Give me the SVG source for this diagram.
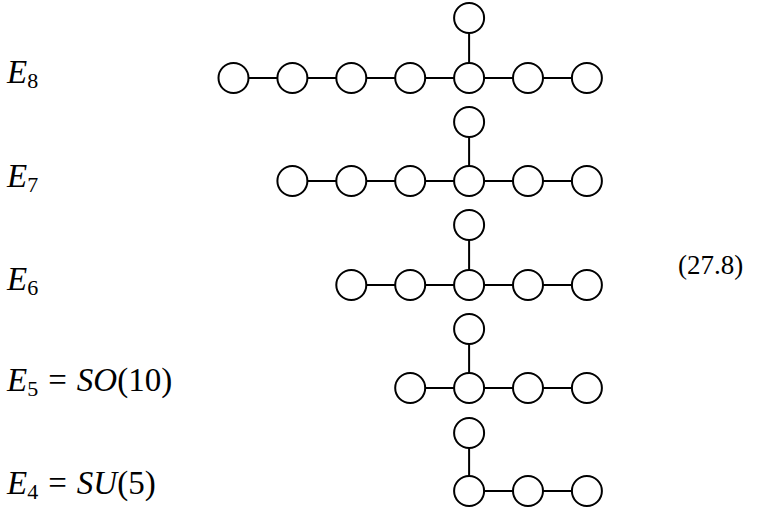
<svg xmlns="http://www.w3.org/2000/svg" width="757" height="508" viewBox="0 0 757 508">
<style>
.n{fill:#fff;stroke:#000;stroke-width:2}
.e{stroke:#000;stroke-width:2;fill:none}
text{font-family:"Liberation Serif","Times New Roman",serif;fill:#000}
.lab{font-size:33px}
.it{font-style:italic}
.sub{font-size:22px}
.eq{font-size:27px}
</style>
<rect width="757" height="508" fill="#fff"/>
<g id="connectors">
<path class="e" d="M233.5 78H586.9M469.1 78V18"/>
<path class="e" d="M292.4 181H586.9M469.1 181V122"/>
<path class="e" d="M351.3 285H586.9M469.1 285V225"/>
<path class="e" d="M410.2 388H586.9M469.1 388V329"/>
<path class="e" d="M469.1 491H586.9M469.1 491V433"/>
</g>
<g id="E8">
<circle class="n" cx="233.5" cy="78" r="15"/><circle class="n" cx="292.4" cy="78" r="15"/><circle class="n" cx="351.3" cy="78" r="15"/><circle class="n" cx="410.2" cy="78" r="15"/><circle class="n" cx="469.1" cy="78" r="15"/><circle class="n" cx="528" cy="78" r="15"/><circle class="n" cx="586.9" cy="78" r="15"/><circle class="n" cx="469.1" cy="18" r="15"/>
</g>
<g id="E7">
<circle class="n" cx="292.4" cy="181" r="15"/><circle class="n" cx="351.3" cy="181" r="15"/><circle class="n" cx="410.2" cy="181" r="15"/><circle class="n" cx="469.1" cy="181" r="15"/><circle class="n" cx="528" cy="181" r="15"/><circle class="n" cx="586.9" cy="181" r="15"/><circle class="n" cx="469.1" cy="122" r="15"/>
</g>
<g id="E6">
<circle class="n" cx="351.3" cy="285" r="15"/><circle class="n" cx="410.2" cy="285" r="15"/><circle class="n" cx="469.1" cy="285" r="15"/><circle class="n" cx="528" cy="285" r="15"/><circle class="n" cx="586.9" cy="285" r="15"/><circle class="n" cx="469.1" cy="225" r="15"/>
</g>
<g id="E5">
<circle class="n" cx="410.2" cy="388" r="15"/><circle class="n" cx="469.1" cy="388" r="15"/><circle class="n" cx="528" cy="388" r="15"/><circle class="n" cx="586.9" cy="388" r="15"/><circle class="n" cx="469.1" cy="329" r="15"/>
</g>
<g id="E4">
<circle class="n" cx="469.1" cy="491" r="15"/><circle class="n" cx="528" cy="491" r="15"/><circle class="n" cx="586.9" cy="491" r="15"/><circle class="n" cx="469.1" cy="433" r="15"/>
</g>
<g id="labels">
<text class="lab" x="7" y="83"><tspan class="it">E</tspan><tspan class="sub" dy="5">8</tspan></text>
<text class="lab" x="7" y="187"><tspan class="it">E</tspan><tspan class="sub" dy="5">7</tspan></text>
<text class="lab" x="7" y="290"><tspan class="it">E</tspan><tspan class="sub" dy="5">6</tspan></text>
<text class="lab" x="7" y="391"><tspan class="it">E</tspan><tspan class="sub" dy="5">5</tspan><tspan dx="10" dy="-5">=</tspan><tspan class="it" dx="10">SO</tspan><tspan>(10)</tspan></text>
<text class="lab" x="7" y="494"><tspan class="it">E</tspan><tspan class="sub" dy="5">4</tspan><tspan dx="10" dy="-5">=</tspan><tspan class="it" dx="10">SU</tspan><tspan>(5)</tspan></text>
<text class="eq" x="678" y="274">(27.8)</text>
</g>
</svg>
